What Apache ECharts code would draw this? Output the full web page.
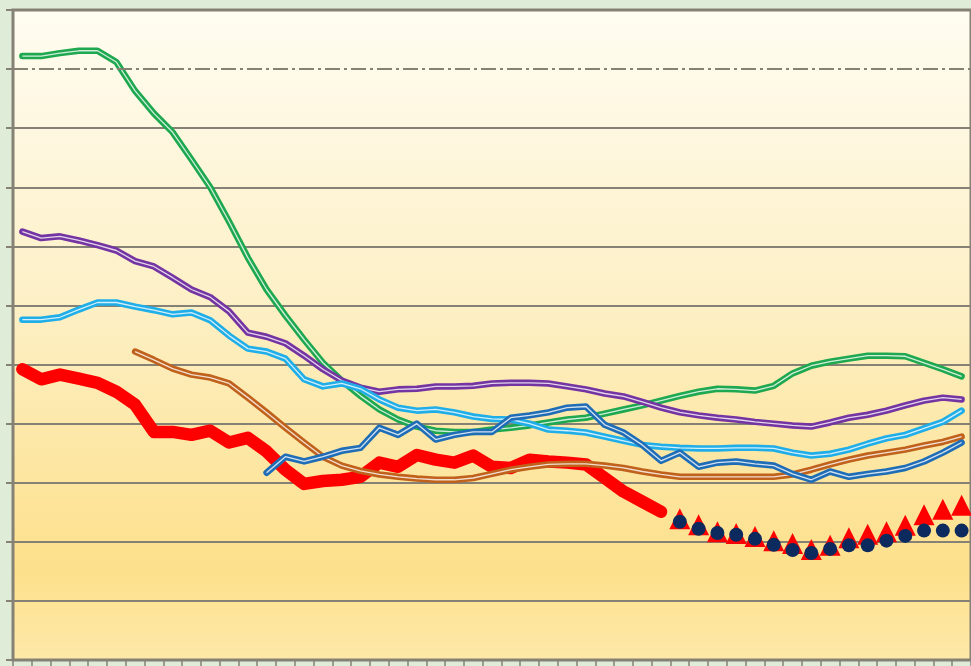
<!DOCTYPE html>
<html>
<head>
    <meta charset="utf-8">
    <title>chart</title>
    <script src="https://cdn.jsdelivr.net/npm/echarts@6/dist/echarts.min.js"></script>
    <style type="text/css">
        html, body { margin: 0; padding: 0; background: #dfecd8; }
        #main { width: 971px; height: 666px; }
    </style>
</head>
<body>
    <div id="main"></div>
    <script type="text/javascript">
        var categories = ['1','2','3','4','5','6','7','8','9','10','11','12','13','14','15','16','17',
            '18','19','20','21','22','23','24','25','26','27','28','29','30','31','32','33','34',
            '35','36','37','38','39','40','41','42','43','44','45','46','47','48','49','50','51'];

        var greenVals = [10.22,10.22,10.27,10.31,10.31,10.12,9.63,9.25,8.93,8.47,8.0,7.42,6.81,6.27,5.83,5.42,5.03,
            4.73,4.47,4.24,4.07,3.95,3.88,3.86,3.86,3.90,3.93,3.97,4.02,4.07,4.10,4.17,4.24,4.31,
            4.39,4.47,4.54,4.59,4.58,4.56,4.64,4.85,4.98,5.05,5.10,5.15,5.15,5.14,5.03,4.92,4.80];

        var purpleVals = [7.25,7.14,7.17,7.10,7.02,6.93,6.75,6.66,6.47,6.27,6.14,5.90,5.54,5.47,5.36,5.15,4.92,
            4.73,4.61,4.54,4.58,4.59,4.63,4.63,4.64,4.68,4.69,4.69,4.68,4.63,4.58,4.51,4.46,4.37,
            4.27,4.19,4.14,4.10,4.07,4.03,4.00,3.97,3.95,4.02,4.10,4.15,4.22,4.31,4.39,4.44,4.41];

        var cyanVals = [5.76,5.76,5.80,5.93,6.05,6.05,5.98,5.92,5.85,5.88,5.75,5.49,5.27,5.22,5.10,4.75,4.63,
            4.68,4.59,4.41,4.27,4.22,4.24,4.19,4.12,4.08,4.07,4.00,3.90,3.88,3.85,3.78,3.71,3.64,
            3.61,3.59,3.58,3.58,3.59,3.59,3.58,3.51,3.46,3.49,3.56,3.66,3.75,3.81,3.92,4.03,4.22];

        var brownVals = [null,null,null,null,null,null,5.22,5.08,4.93,4.83,4.78,4.68,4.44,4.19,3.93,3.68,3.44,
            3.29,3.20,3.14,3.10,3.07,3.05,3.05,3.08,3.15,3.22,3.27,3.31,3.32,3.32,3.29,3.25,3.19,
            3.14,3.10,3.10,3.10,3.10,3.10,3.10,3.14,3.22,3.31,3.39,3.46,3.51,3.56,3.63,3.69,3.78];

        var blueVals = [null,null,null,null,null,null,null,null,null,null,null,null,null,3.17,3.44,3.36,3.44,
            3.54,3.59,3.93,3.81,4.00,3.73,3.81,3.86,3.86,4.10,4.14,4.19,4.27,4.29,3.98,3.85,3.64,
            3.37,3.51,3.27,3.34,3.36,3.32,3.29,3.15,3.05,3.19,3.10,3.15,3.19,3.25,3.36,3.51,3.68];

        var redVals = [4.92,4.75,4.83,4.76,4.69,4.54,4.32,3.86,3.86,3.81,3.88,3.68,3.76,3.53,3.22,2.98,3.03,
            3.05,3.10,3.34,3.27,3.47,3.39,3.34,3.46,3.27,3.25,3.39,3.36,3.34,3.31,3.08,2.85,2.68,
            2.51,null,null,null,null,null,null,null,null,null,null,null,null,null,null,null,null];

        var triangleVals = [null,null,null,null,null,null,null,null,null,null,null,null,null,null,null,null,null,
            null,null,null,null,null,null,null,null,null,null,null,null,null,null,null,null,null,
            null,2.39,2.29,2.17,2.14,2.09,2.02,1.97,1.87,1.94,2.07,2.13,2.17,2.28,2.46,2.55,2.62];

        var circleVals = [null,null,null,null,null,null,null,null,null,null,null,null,null,null,null,null,null,
            null,null,null,null,null,null,null,null,null,null,null,null,null,null,null,null,null,
            null,2.34,2.22,2.15,2.12,2.05,1.95,1.86,1.81,1.88,1.94,1.94,2.02,2.10,2.19,2.19,2.19];

        var refLine = 10;
        var gridGray = '#858175';

        // excel style "double" line: colored outer stroke with a thin light core
        function doubleLine(name, data, color) {
            return [
                { name: name, type: 'line', data: data, symbol: 'none',
                  lineStyle: { color: color, width: 6.5, join: 'round', cap: 'round' } },
                { name: name + ' core', type: 'line', data: data, symbol: 'none',
                  lineStyle: { color: 'rgba(255,255,255,0.8)', width: 1.3, join: 'round' } }
            ];
        }

        var splitColors = [gridGray, gridGray, gridGray, gridGray, gridGray, gridGray,
            gridGray, gridGray, gridGray, gridGray, 'transparent', gridGray];

        var series = [];
        series.push({
            name: 'ref', type: 'line', data: [], symbol: 'none',
            markLine: {
                silent: true, symbol: 'none', label: { show: false },
                lineStyle: { color: gridGray, width: 2, type: [15, 4, 3, 4] },
                data: [{ yAxis: refLine }]
            }
        });
        series.push({
            name: 'red', type: 'line', data: redVals, symbol: 'none',
            lineStyle: { color: '#ff0000', width: 12.5, cap: 'round', join: 'round' }
        });
        series = series.concat(doubleLine('brown', brownVals, '#c0621c'));
        series = series.concat(doubleLine('green', greenVals, '#1ea84f'));
        series = series.concat(doubleLine('purple', purpleVals, '#7434a2'));
        series = series.concat(doubleLine('cyan', cyanVals, '#20aee8'));
        series = series.concat(doubleLine('blue', blueVals, '#1f6db6'));
        series.push({
            name: 'triangles', type: 'line', data: triangleVals, symbol: 'triangle', symbolSize: [21, 21],
            showAllSymbol: true, lineStyle: { opacity: 0 }, itemStyle: { color: '#ff0000' }
        });
        series.push({
            name: 'circles', type: 'line', data: circleVals, symbol: 'circle', symbolSize: 14,
            showAllSymbol: true, lineStyle: { opacity: 0 }, itemStyle: { color: '#0c2a5e' }
        });

        var chart = echarts.init(document.getElementById('main'));
        var option = {
            animation: false,
            backgroundColor: '#dfecd8',
            grid: {
                left: 13, right: -3, top: 10, bottom: 6,
                show: true,
                borderColor: gridGray,
                borderWidth: 3,
                backgroundColor: {
                    type: 'linear', x: 0, y: 0, x2: 0, y2: 1,
                    colorStops: [
                        { offset: 0, color: '#fffdf2' },
                        { offset: 0.45, color: '#fdf0c6' },
                        { offset: 0.86, color: '#fde08b' },
                        { offset: 1, color: '#fee9aa' }
                    ]
                }
            },
            xAxis: {
                type: 'category',
                data: categories,
                boundaryGap: true,
                axisLine: { lineStyle: { color: gridGray, width: 2 } },
                axisTick: { show: true, interval: 0, length: 6, lineStyle: { color: gridGray, width: 1.5 } },
                axisLabel: { show: false },
                splitLine: { show: false }
            },
            yAxis: {
                type: 'value',
                min: 0, max: 11, interval: 1,
                axisLine: { show: true, lineStyle: { color: gridGray, width: 2 } },
                axisTick: { show: true, length: 7, lineStyle: { color: gridGray, width: 2 } },
                axisLabel: { show: false },
                splitLine: { show: true, lineStyle: { color: splitColors, width: 2 } }
            },
            series: series
        };
        chart.setOption(option);
    </script>
</body>
</html>
